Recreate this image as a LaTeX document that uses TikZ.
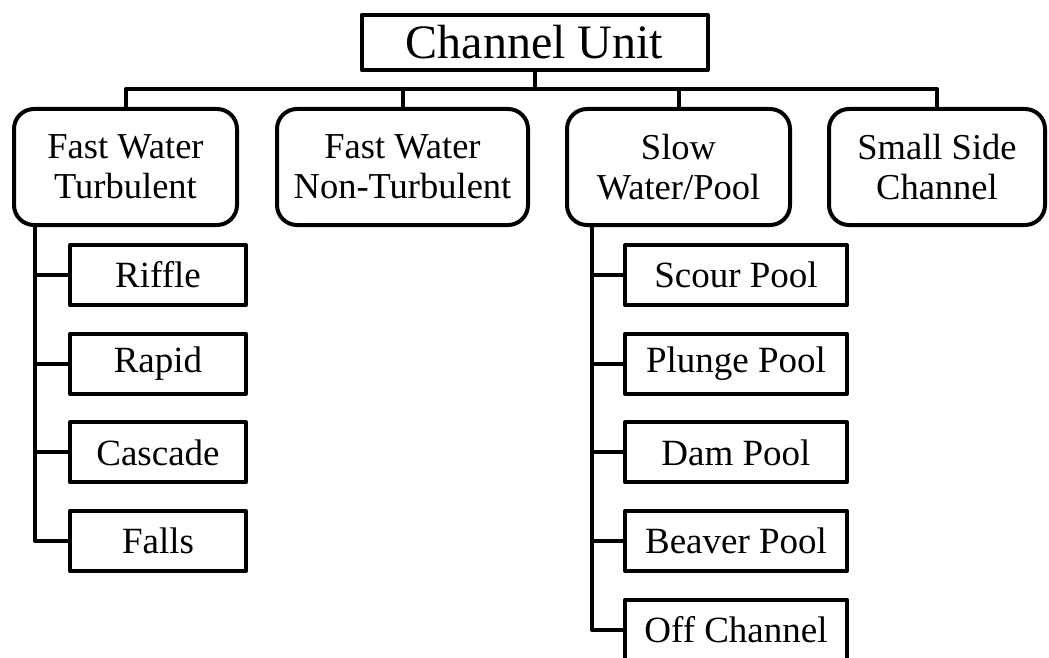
\documentclass[tikz,border=0pt]{standalone}
\usepackage{fontspec}
\setmainfont{Liberation Serif}
\usepackage{tikz}

\begin{document}
\begin{tikzpicture}
        [%%%%%%%%%%%%%%%%%%%%%%%%%%%%%%
        x=1pt, y=-1pt, line width=4pt, line join=round,
        unitbox/.style={draw, inner sep=0pt, minimum width=346pt, minimum height=55pt,
          font=\fontsize{48}{52}\selectfont},
        classbox/.style={draw, rounded corners=20pt, inner sep=0pt, minimum height=116pt,
          align=center, font=\fontsize{36.5}{40}\selectfont},
        typebox/.style={draw, inner sep=0pt, minimum height=60pt,
          font=\fontsize{37}{40}\selectfont},
        ]%%%%%%%%%%%%%%%%%%%%%%%%%%%%%%
        \path[use as bounding box, clip] (0,0) rectangle (1049,658);
        % Top box
        \node[unitbox] (unit) at (534.5,42.5) {Channel Unit};
        % Second level
        \node[classbox, minimum width=223pt] (fwt) at (125.5,167) {Fast Water\\Turbulent};
        \node[classbox, minimum width=251pt] (fwn) at (402.5,167) {Fast Water\\Non-Turbulent};
        \node[classbox, minimum width=223pt] (swp) at (678.5,167) {Slow\\Water/Pool};
        \node[classbox, minimum width=216pt] (ssc) at (937,167) {Small Side\\Channel};
        \coordinate (bar) at (0,89);
        \draw (fwt.north) |- (ssc.north |- bar) -- (ssc.north);
        \foreach \n in {unit.south, fwn.north, swp.north}{
          \draw (\n) -- (\n |- bar);
        }
        % Fast water types
        \foreach \n/\txt [count=\i from 0] in {riffle/Riffle, rapid/Rapid, cascade/Cascade, falls/Falls}{
          \node[typebox, minimum width=176pt] (\n) at (158,275+88.7*\i) {\txt};
        }
        \coordinate (ftrunk) at (35,0);
        \draw (fwt.south -| ftrunk) |- (falls.west);
        \foreach \n in {riffle, rapid, cascade}{
          \draw (\n.west) -- (\n.west -| ftrunk);
        }
        % Pool types
        \foreach \n/\txt [count=\i from 0] in {scour/Scour Pool, plunge/Plunge Pool, dam/Dam Pool,
            beaver/Beaver Pool, off/Off Channel}{
          \node[typebox, minimum width=222pt] (\n) at (736,275+88.7*\i) {\txt};
        }
        \coordinate (strunk) at (592,0);
        \draw (swp.south -| strunk) |- (off.west);
        \foreach \n in {scour, plunge, dam, beaver}{
          \draw (\n.west) -- (\n.west -| strunk);
        }
      \end{tikzpicture}
\end{document}
